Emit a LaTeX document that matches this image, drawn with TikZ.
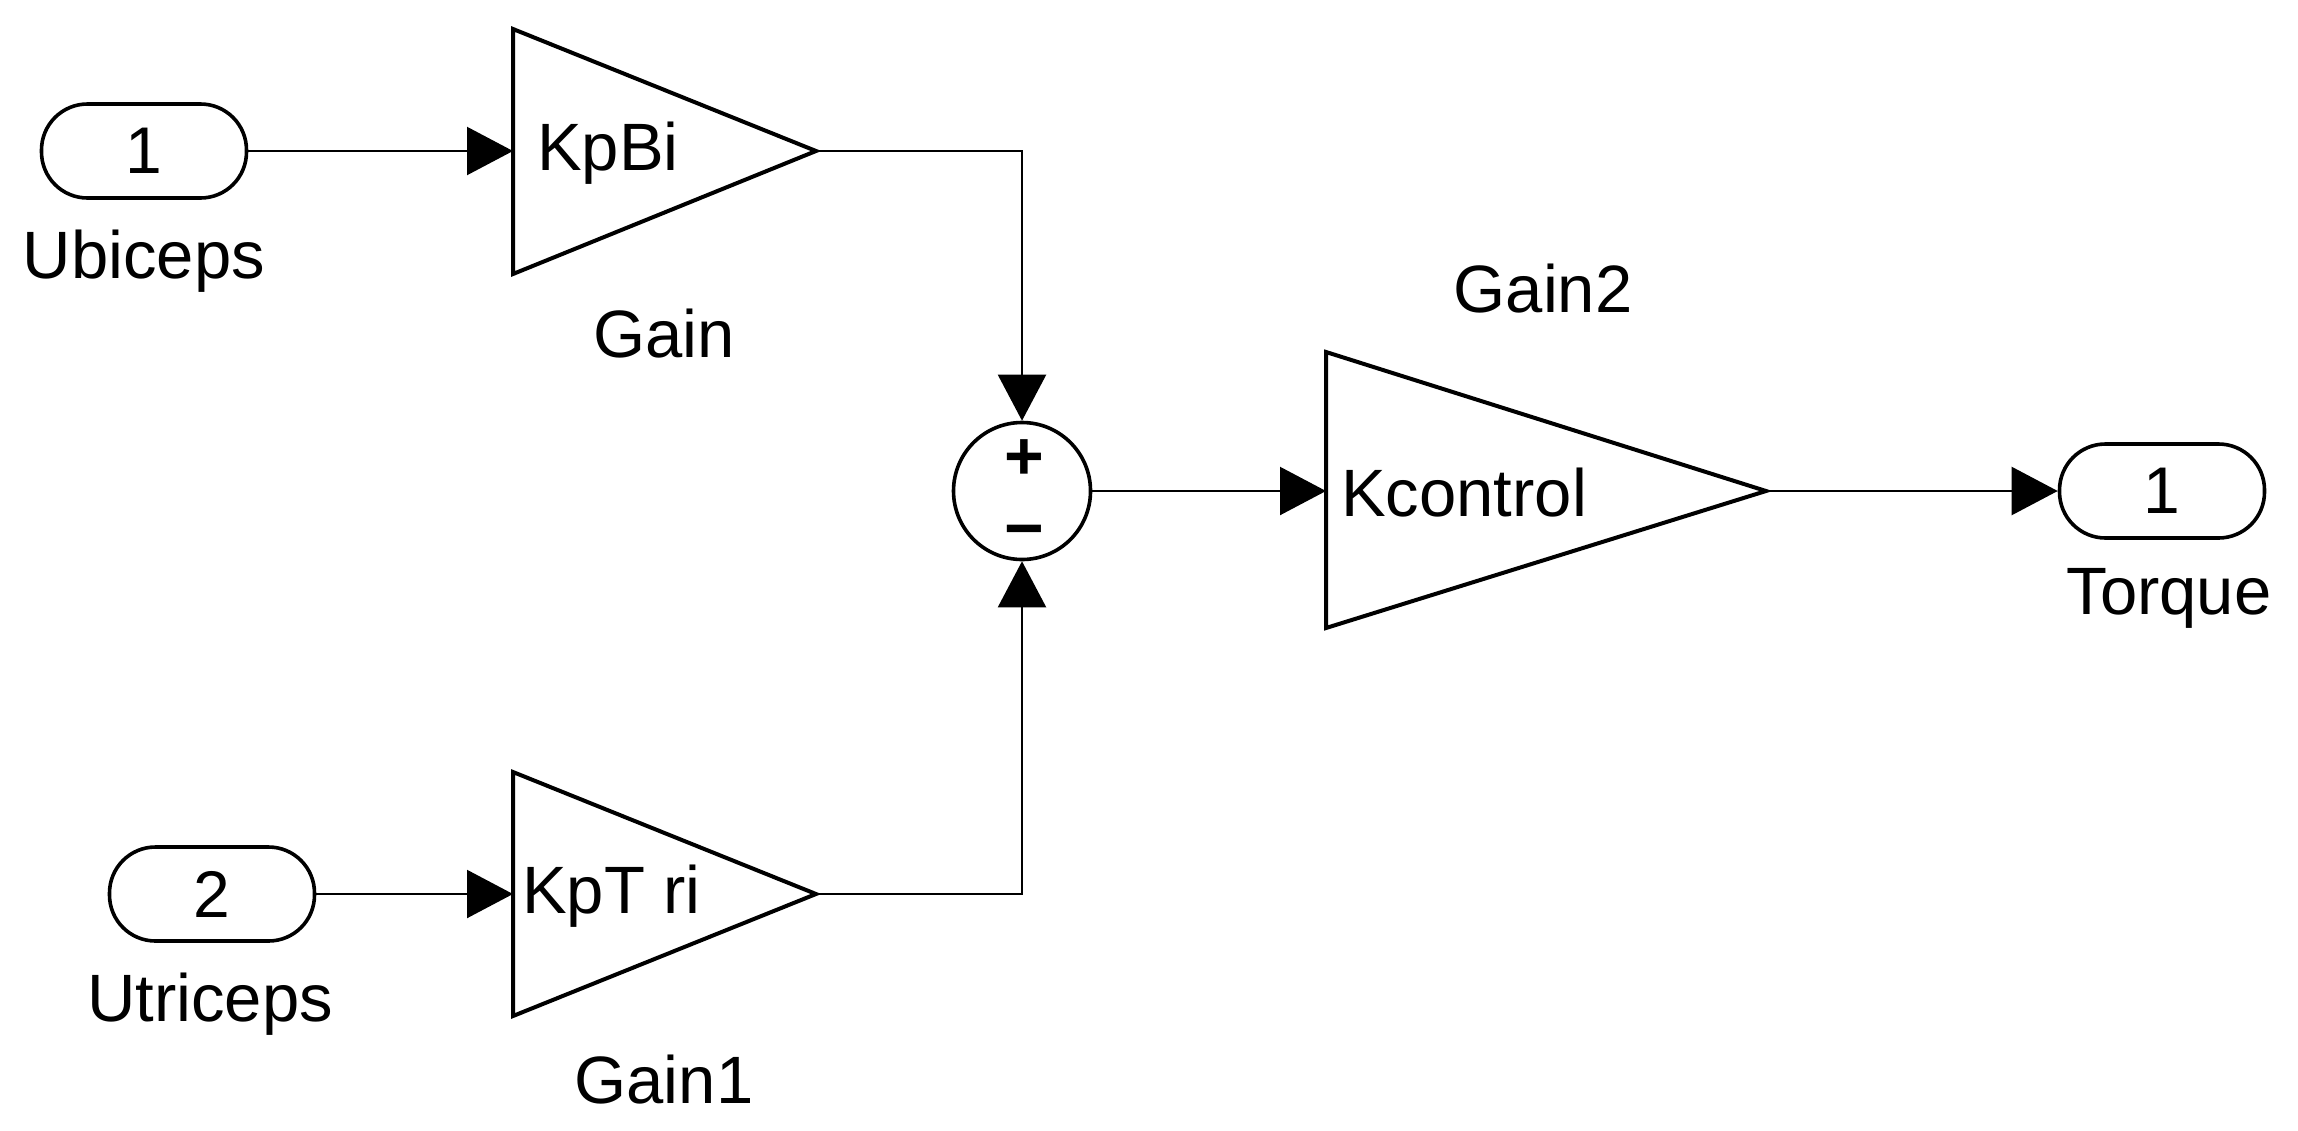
\documentclass[tikz,border=0pt]{standalone}
\usepackage{fontspec}
\setmainfont{Liberation Sans}
\usetikzlibrary{arrows.meta,shapes.geometric}
\begin{document}
\begin{tikzpicture}[x=1pt,y=-1pt,
  blk/.style={draw=black,line width=4pt,line join=miter},
  port/.style={draw=black,line width=3.6pt,rounded corners=46pt,minimum width=205pt,minimum height=94pt,inner sep=0pt,font=\fontsize{66}{70}\selectfont},
  wire/.style={draw=black,line width=2.2pt,-{Triangle[length=46pt,width=48pt]}},
  lbl/.style={inner sep=0pt,font=\fontsize{67}{72}\selectfont},
  gtxt/.style={inner sep=0pt,anchor=west,font=\fontsize{67}{72}\selectfont},
  sgn/.style={inner sep=0pt,font=\fontsize{68}{72}\selectfont\bfseries}]
\useasboundingbox (0,0) rectangle (2298,1130);
% ports
\node[port] (in1) at (144,151) {1};
\node[port] (in2) at (212,894) {2};
\node[port] (out1) at (2162,491) {1};
\node[lbl] (lin1) at (144,261) {Ubiceps};
\node[lbl] (lin2) at (210,1004) {Utriceps};
\node[lbl] (lout) at (2169,598) {Torque};
% gains
\draw[blk] (513,29) -- (816,151) -- (513,274) -- cycle;
\coordinate (gA-in) at (513,151);
\coordinate (gA-out) at (816,151);
\node[gtxt] (tA) at (537,153) {KpBi};
\node[lbl] (lA) at (664,334) {Gain};
\draw[blk] (513,772) -- (816,894) -- (513,1016) -- cycle;
\coordinate (gC-in) at (513,894);
\coordinate (gC-out) at (816,894);
\node[gtxt] (tC) at (522,896) {KpT ri};
\node[lbl] (lC) at (664,1080) {Gain1};
\draw[blk] (1326,352) -- (1766,491) -- (1326,628) -- cycle;
\coordinate (gB-in) at (1326,491);
\coordinate (gB-out) at (1766,491);
\node[gtxt] (tB) at (1341,493) {Kcontrol};
\node[lbl] (lB) at (1543,289) {Gain2};
% sum
\node[circle,draw=black,line width=3.6pt,minimum size=137pt,inner sep=0pt] (sum) at (1022,491) {};
\node[sgn] (plus) at (1024,460) {+};
\node[sgn] (minus) at (1024,538) {−};
% wires
\draw[wire] (in1.east) -- (gA-in);
\draw[wire] (in2.east) -- (gC-in);
\draw[wire] (gA-out) -| (sum.north);
\draw[wire] (gC-out) -| (sum.south);
\draw[wire] (sum.east) -- (gB-in);
\draw[wire] (gB-out) -- (out1.west);
\end{tikzpicture}
\end{document}
